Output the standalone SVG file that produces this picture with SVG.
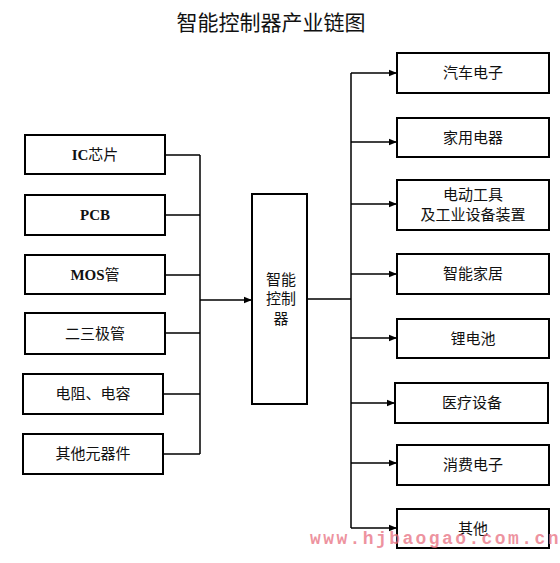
<svg xmlns="http://www.w3.org/2000/svg" width="560" height="563" viewBox="0 0 560 563">
<defs>
<style>
.box{fill:#fff;stroke:#000;stroke-width:2}
.lbl{font-family:"Liberation Serif","Noto Sans CJK SC",serif;font-size:15px;text-anchor:middle;fill:#111}
.lat{font-weight:bold}
.ln{fill:none;stroke:#000;stroke-width:1.5}
.title{font-family:"Noto Sans CJK SC","Liberation Sans",sans-serif;font-size:21px;text-anchor:middle;fill:#111}
.wm{font-family:"Liberation Mono",monospace;font-weight:bold;font-size:18px;fill:#e8707f;fill-opacity:0.75;letter-spacing:2.4px}
</style>
<marker id="ah" viewBox="0 0 10 10" refX="10" refY="5" markerWidth="8" markerHeight="8" markerUnits="userSpaceOnUse" orient="auto">
<path d="M0,1 L10,5 L0,9 Z" fill="#000"/>
</marker>
</defs>
<text class="title" x="271" y="30">智能控制器产业链图</text>
<g id="connectors">
<path class="ln" d="M165,155 H200 M165,215 H200 M165,275 H200 M165,333 H200 M163,394 H200 M163,454 H200 M200,155 V454"/>
<path class="ln" d="M200,300 H252" marker-end="url(#ah)"/>
<path class="ln" d="M307,299 H351 M351,73 V528"/>
<path class="ln" d="M351,73 H397" marker-end="url(#ah)"/>
<path class="ln" d="M351,142 H397" marker-end="url(#ah)"/>
<path class="ln" d="M351,204 H397" marker-end="url(#ah)"/>
<path class="ln" d="M351,274 H397" marker-end="url(#ah)"/>
<path class="ln" d="M351,338 H397" marker-end="url(#ah)"/>
<path class="ln" d="M351,403 H395" marker-end="url(#ah)"/>
<path class="ln" d="M351,463 H397" marker-end="url(#ah)"/>
<path class="ln" d="M351,528 H397" marker-end="url(#ah)"/>
</g>
<g id="n-ic"><rect class="box" x="25" y="135" width="140" height="39"/><text class="lbl" x="95" y="160"><tspan class="lat">IC</tspan>芯片</text></g>
<g id="n-pcb"><rect class="box" x="25" y="195" width="140" height="40"/><text class="lbl lat" x="95" y="220">PCB</text></g>
<g id="n-mos"><rect class="box" x="25" y="255" width="140" height="39"/><text class="lbl" x="95" y="280"><tspan class="lat">MOS</tspan>管</text></g>
<g id="n-diode"><rect class="box" x="25" y="313" width="140" height="41"/><text class="lbl" x="95" y="339">二三极管</text></g>
<g id="n-rc"><rect class="box" x="23" y="374" width="140" height="40"/><text class="lbl" x="93" y="399">电阻、电容</text></g>
<g id="n-other-comp"><rect class="box" x="23" y="434" width="140" height="40"/><text class="lbl" x="93" y="459">其他元器件</text></g>
<g id="n-center"><rect class="box" x="252" y="194" width="55" height="210"/>
<text class="lbl" x="281" y="285">智能</text><text class="lbl" x="281" y="304">控制</text><text class="lbl" x="281" y="324">器</text></g>
<g id="n-auto"><rect class="box" x="397" y="53" width="152" height="40"/><text class="lbl" x="473" y="78">汽车电子</text></g>
<g id="n-home"><rect class="box" x="397" y="118" width="152" height="39"/><text class="lbl" x="473" y="143">家用电器</text></g>
<g id="n-tools"><rect class="box" x="397" y="180" width="152" height="50"/><text class="lbl" x="473" y="200">电动工具</text><text class="lbl" x="473" y="220">及工业设备装置</text></g>
<g id="n-smart"><rect class="box" x="397" y="254" width="152" height="40"/><text class="lbl" x="473" y="279">智能家居</text></g>
<g id="n-li"><rect class="box" x="397" y="319" width="152" height="39"/><text class="lbl" x="473" y="344">锂电池</text></g>
<g id="n-med"><rect class="box" x="395" y="383" width="153" height="40"/><text class="lbl" x="472" y="408">医疗设备</text></g>
<g id="n-cons"><rect class="box" x="397" y="445" width="152" height="40"/><text class="lbl" x="473" y="470">消费电子</text></g>
<g id="n-oth"><rect class="box" x="397" y="509" width="152" height="39"/><text class="lbl" x="473" y="534">其他</text></g>
<text class="wm" x="310" y="544">www.hjbaogao.com.cn</text>
</svg>
